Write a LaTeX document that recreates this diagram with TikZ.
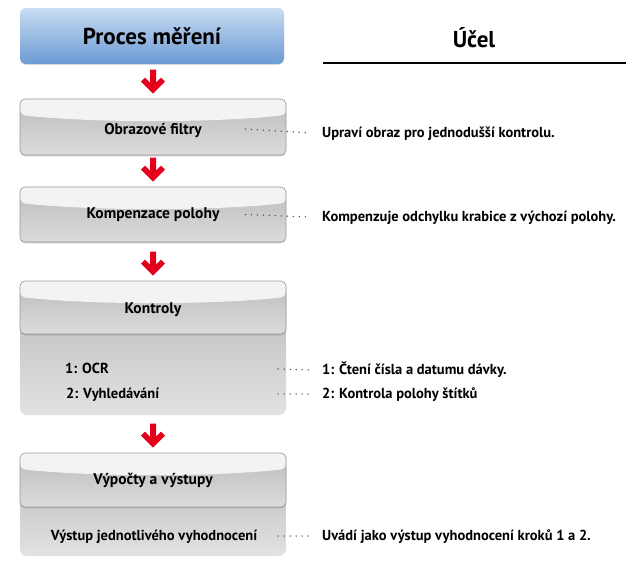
\documentclass[tikz,border=0pt]{standalone}
\usepackage{fontspec}
\setmainfont{PT Sans}
\usetikzlibrary{shadows,calc}
\definecolor{arrred}{HTML}{E2001A}
\definecolor{blueTop}{HTML}{C9DCF3}
\definecolor{blueBot}{HTML}{6B9AD3}
\definecolor{glossc}{HTML}{F3F3F3}
\definecolor{hdrTop}{HTML}{BBBBBB}
\definecolor{hdrBot}{HTML}{DCDCDC}
\definecolor{bodyTop}{HTML}{B8B8B8}
\definecolor{bodyBot}{HTML}{E2E2E2}
\definecolor{dotc}{HTML}{444444}
\tikzset{
  titlebox/.style={rounded corners=6pt, top color=blueTop, bottom color=blueBot,
    draw=none, minimum width=264pt, minimum height=56pt, inner sep=0pt,
    font=\bfseries\fontsize{23}{26}\selectfont,
    drop shadow={opacity=0.2, shadow xshift=0pt, shadow yshift=-1pt}},
  hdrbox/.style={rounded corners=5pt, draw=black!40, line width=0.6pt,
    top color=hdrTop, bottom color=hdrBot,
    minimum width=266pt, inner sep=0pt, text depth=0pt,
    font=\bfseries\fontsize{15.5}{18}\selectfont,
    drop shadow={opacity=0.4, shadow xshift=0pt, shadow yshift=-1.3pt},
    path picture={
      \fill[glossc] (path picture bounding box.north west) --
        (path picture bounding box.north east) --
        ($(path picture bounding box.north east)+(0,16)$)
        .. controls ($(path picture bounding box.north)+(60,24)$) and ($(path picture bounding box.north)+(-60,24)$) ..
        ($(path picture bounding box.north west)+(0,16)$) -- cycle;
    }},
  bodybox/.style={rounded corners=7pt, draw=none, top color=bodyTop, bottom color=bodyBot,
    minimum width=266pt, inner sep=0pt},
  lbl/.style={inner sep=0pt, anchor=base west, font=\bfseries\fontsize{14.5}{17}\selectfont},
  dotline/.style={dotc, line width=1.5pt, line cap=round, dash pattern=on 0pt off 6pt},
  redarrow/.style={fill=arrred, draw=none}
}
\newcommand{\chevarrow}[1]{%
  \fill[redarrow] ($(#1)+(0,-5)$) -- ++(12,-12) -- ++(-4,-4) -- ++(-5,5) -- ++(0,-13)
    -- ++(-6,0) -- ++(0,13) -- ++(-5,-5) -- ++(-4,4) -- cycle;}
\begin{document}
\begin{tikzpicture}[x=1pt,y=-1pt]
\useasboundingbox[fill=white] (0,0) rectangle (635,562);

% title column
\node[titlebox] (title) at (152,36) {Proces měření};
\node[font=\bfseries\fontsize{23}{26}\selectfont, inner sep=0pt] (ucel) at (474,38) {Účel};
\coordinate (ulL) at (323,63);
\coordinate (ulR) at (626,63);
\draw[line width=1.1pt] (ulL) -- (ulR);

% step 1
\node[hdrbox, minimum height=56pt, text height=15pt] (b1) at (153,127) {Obrazové filtry};
% step 2
\node[hdrbox, minimum height=55pt, text height=8pt] (b2) at (153,214.5) {Kompenzace polohy};
% step 3
\node[bodybox, minimum height=134pt] (k) at (153,348) {};
\node[hdrbox, minimum height=53pt, text height=11pt] (b3) at (153,307.5) {Kontroly};
\node[lbl] (o1) at (65,373) {1: OCR};
\node[lbl] (o2) at (66,398) {2: Vyhledávání};
% step 4
\node[bodybox, minimum height=103pt] (v) at (153,504.5) {};
\node[hdrbox, minimum height=54pt, text height=9pt] (b4) at (153,480) {Výpočty a výstupy};
\node[lbl, anchor=base] (o3) at (154,540) {Výstup jednotlivého vyhodnocení};

% arrows
\chevarrow{b1.north}
\chevarrow{b2.north}
\chevarrow{b3.north}
\chevarrow{b4.north}

% right column texts
\node[lbl] (r1) at (322,137) {Upraví obraz pro jednodušší kontrolu.};
\node[lbl] (r2) at (322,221) {Kompenzuje odchylku krabice z výchozí polohy.};
\node[lbl] (r3) at (322,374) {1: Čtení čísla a datumu dávky.};
\node[lbl] (r4) at (322,398) {2: Kontrola polohy štítků};
\node[lbl] (r5) at (322,540) {Uvádí jako výstup vyhodnocení kroků 1 a 2.};

% dotted connectors
\draw[dotline] ($(b1.east)+(-41,2)$) -- ($(r1.base west)+(-11,-4)$);
\draw[dotline] ($(b2.east)+(-41,0)$) -- ($(r2.base west)+(-11,-4)$);
\draw[dotline] ($(o1.base west -| k.east)+(-8,-4)$) -- ($(r3.base west)+(-11,-4)$);
\draw[dotline] ($(o2.base west -| k.east)+(-8,-4)$) -- ($(r4.base west)+(-11,-4)$);
\draw[dotline] ($(o3.base -| v.east)+(-8,-4)$) -- ($(r5.base west)+(-11,-4)$);
\end{tikzpicture}
\end{document}
